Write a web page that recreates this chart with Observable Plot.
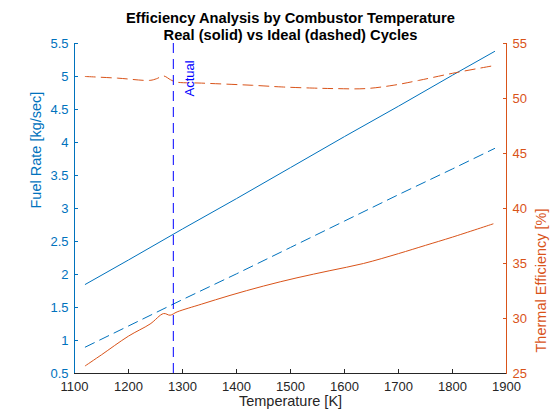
<!DOCTYPE html>
<html><head><meta charset="utf-8">
<script src="https://cdn.jsdelivr.net/npm/d3@7"></script>
<script src="https://cdn.jsdelivr.net/npm/@observablehq/plot@0.6"></script>
<style>html,body{margin:0;padding:0;background:#fff}svg{display:block}</style>
</head><body><div id="chart"></div>
<script>
const titleLine1 = "Efficiency Analysis by Combustor Temperature";
const titleLine2 = "Real (solid) vs Ideal (dashed) Cycles";
const xLabel = "Temperature [K]";
const yLeftLabel = "Fuel Rate [kg/sec]";
const yRightLabel = "Thermal Efficiency [%]";
const actualLabel = "Actual";
const actualTemp = 1283;

const xTicks = [1100, 1200, 1300, 1400, 1500, 1600, 1700, 1800, 1900];
const fuelTicks = [0.5, 1, 1.5, 2, 2.5, 3, 3.5, 4, 4.5, 5, 5.5];
const effTicks = [25, 30, 35, 40, 45, 50, 55];

const tempFuel = [1120, 1200, 1300, 1400, 1500, 1600, 1700, 1800, 1878];
const fuelReal = [1.85, 2.22, 2.69, 3.15, 3.62, 4.09, 4.55, 5.02, 5.38];
const fuelIdeal = [0.90, 1.22, 1.62, 2.01, 2.41, 2.81, 3.21, 3.60, 3.91];

const tempEffReal = [1120, 1150, 1200, 1240, 1265, 1277, 1290, 1335, 1388, 1450, 1512, 1573, 1635, 1700, 1750, 1800, 1875];
const effReal = [25.7, 26.7, 28.4, 29.5, 30.45, 30.3, 30.6, 31.3, 32.1, 32.95, 33.7, 34.35, 35.0, 35.9, 36.65, 37.4, 38.6];

const tempEffIdeal = [1120, 1180, 1240, 1252, 1265, 1278, 1288, 1335, 1430, 1484, 1540, 1583, 1639, 1690, 1738, 1806, 1878];
const effIdeal = [52.0, 51.85, 51.65, 51.8, 52.05, 51.7, 51.5, 51.4, 51.2, 51.05, 50.95, 50.9, 50.9, 51.2, 51.65, 52.35, 53.0];

const blue = "#0072BD";
const orange = "#D95319";
const dark = "#262626";

// map right-axis (efficiency) values onto the left y domain
const effToY = d3.scaleLinear().domain([25, 55]).range([0.5, 5.5]);

const chart = Plot.plot({
  width: 560,
  height: 420,
  marginTop: 43,
  marginBottom: 47,
  marginLeft: 74,
  marginRight: 54,
  style: {fontFamily: "'Liberation Sans', Arial, sans-serif", fontSize: "13px", background: "#fff"},
  x: {domain: [1100, 1900]},
  y: {domain: [0.5, 5.5]},
  marks: [
    Plot.line(tempFuel, {x: tempFuel, y: fuelReal, stroke: blue, strokeWidth: 1}),
    Plot.line(tempFuel, {x: tempFuel, y: fuelIdeal, stroke: blue, strokeWidth: 1, strokeDasharray: "10,6"}),
    Plot.line(tempEffReal, {x: tempEffReal, y: effReal.map(effToY), stroke: orange, strokeWidth: 1, curve: "catmull-rom"}),
    Plot.line(tempEffIdeal, {x: tempEffIdeal, y: effIdeal.map(effToY), stroke: orange, strokeWidth: 1, strokeDasharray: "10,6", curve: "catmull-rom"}),
    Plot.ruleX([actualTemp], {stroke: "#0000ff", strokeWidth: 1, strokeDasharray: "10,6"}),
    Plot.text([actualLabel], {x: actualTemp, frameAnchor: "top", dy: 53, dx: 11, rotate: -90, textAnchor: "start", fill: "#0000ff", fontSize: 13}),
    Plot.axisX(xTicks, {anchor: "bottom", tickSize: -4, tickPadding: 12, color: dark, label: null, tickFormat: d => String(d)}),
    Plot.axisY(fuelTicks, {anchor: "left", tickSize: -4, tickPadding: 10, color: blue, label: null, tickFormat: d => String(d)}),
    Plot.axisY(effTicks.map(effToY), {anchor: "right", tickSize: -4, tickPadding: 10, color: orange, label: null, tickFormat: d => String(Math.round(effToY.invert(d)))}),
    Plot.ruleX([1100], {stroke: blue, strokeWidth: 1}),
    Plot.ruleX([1900], {stroke: orange, strokeWidth: 1}),
    Plot.ruleY([0.5], {stroke: dark, strokeWidth: 1}),
    Plot.text([titleLine1], {frameAnchor: "top", dy: -31, fontWeight: "bold", fontSize: 14.7, fill: "#000"}),
    Plot.text([titleLine2], {frameAnchor: "top", dy: -14, fontWeight: "bold", fontSize: 14.7, fill: "#000"}),
    Plot.text([xLabel], {frameAnchor: "bottom", dy: 32, fontSize: 14.5, fill: dark}),
    Plot.text([yLeftLabel], {frameAnchor: "left", dx: -38, rotate: -90, fontSize: 14.5, fill: blue}),
    Plot.text([yRightLabel], {frameAnchor: "right", dx: 35, rotate: -90, fontSize: 14.5, fill: orange})
  ]
});
document.getElementById("chart").appendChild(chart);
</script>
</body></html>
